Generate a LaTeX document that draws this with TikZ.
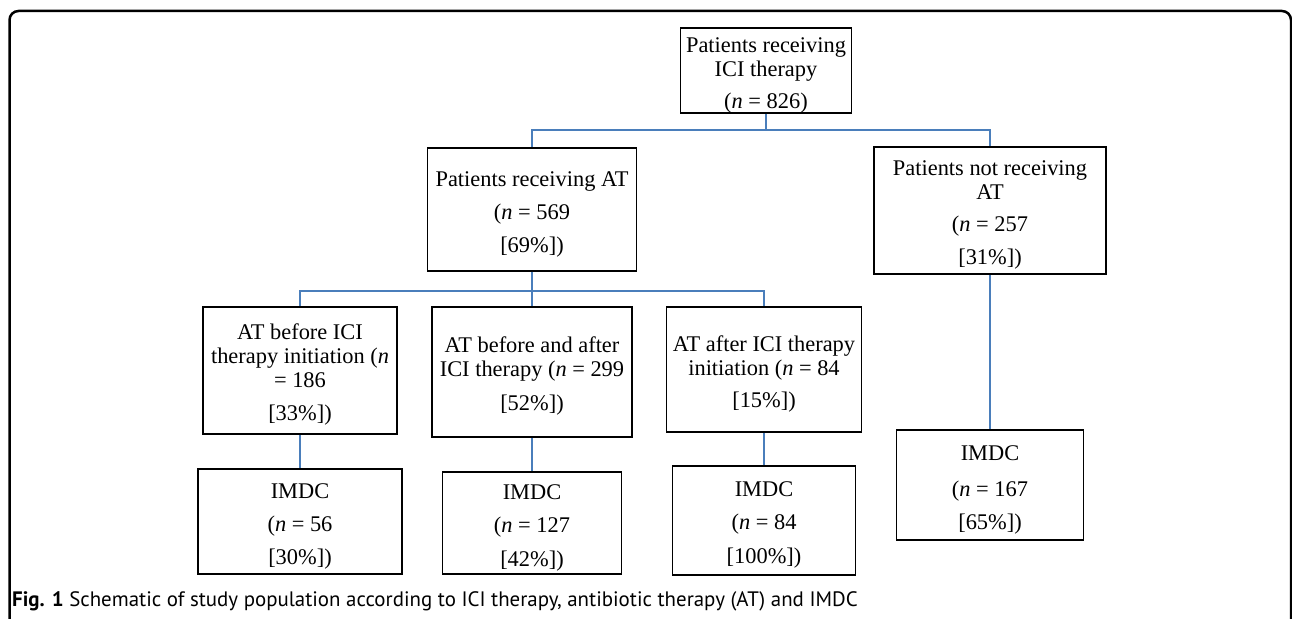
\documentclass[tikz,border=0pt]{standalone}
\usepackage{fontspec}
\setmainfont{Liberation Serif}
\newfontfamily\capfont{PT Sans}
\definecolor{connblue}{RGB}{74,126,187}
\newcommand{\upstrut}{\rule{0pt}{24pt}}
\begin{document}
\begin{tikzpicture}[x=1pt,y=-1pt,
  box/.style={draw, line width=1.6pt, align=center, inner sep=0pt,
    font=\fontsize{22.4}{24}\selectfont},
  conn/.style={draw=connblue, line width=1.8pt}]
\useasboundingbox (0,0) rectangle (1292,618);
\begin{scope}
\clip (0,0) rectangle (1292,618);
\draw[line width=2.5pt, rounded corners=9pt] (9.5,11) rectangle (1291,660);
\end{scope}
\node[box, minimum width=171pt, minimum height=85pt] (top) at (766,70.5)
  {\upstrut Patients receiving\\ICI therapy\\[8pt](\textit{n} = 826)};
\node[box, minimum width=209pt, minimum height=123pt] (at) at (532,209.5)
  {\upstrut Patients receiving AT\\[9pt](\textit{n} = 569\\[9pt][69\%])};
\node[box, minimum width=232pt, minimum height=127pt] (nat) at (990,210.5)
  {\upstrut Patients not receiving\\AT\\[8pt](\textit{n} = 257\\[9pt][31\%])};
\node[box, minimum width=194pt, minimum height=127pt] (b1) at (300,370.5)
  {\upstrut AT before ICI\\therapy initiation (\textit{n}\\= 186\\[9pt][33\%])};
\node[box, minimum width=200pt, minimum height=130pt] (b2) at (532,372)
  {\upstrut AT before and after\\ICI therapy (\textit{n} = 299\\[10pt][52\%])};
\node[box, minimum width=195pt, minimum height=125pt] (b3) at (764,369.5)
  {\upstrut AT after ICI therapy\\initiation (\textit{n} = 84\\[8pt][15\%])};
\node[box, minimum width=204pt, minimum height=105pt] (i1) at (300,521.5)
  {\upstrut IMDC\\[9pt](\textit{n} = 56\\[9pt][30\%])};
\node[box, minimum width=179pt, minimum height=102pt] (i2) at (532,523)
  {\upstrut IMDC\\[9pt](\textit{n} = 127\\[10pt][42\%])};
\node[box, minimum width=183pt, minimum height=109pt] (i3) at (764,520.5)
  {\upstrut IMDC\\[9pt](\textit{n} = 84\\[10pt][100\%])};
\node[box, minimum width=187pt, minimum height=110pt] (i4) at (990,485)
  {\upstrut IMDC\\[12pt](\textit{n} = 167\\[9pt][65\%])};
\draw[conn] (top.south) -- ++(0,16) -| (at.north);
\draw[conn] (top.south) -- ++(0,16) -| (nat.north);
\draw[conn] (at.south) -- ++(0,19) -| (b1.north);
\draw[conn] (at.south) -- ++(0,19) -| (b3.north);
\draw[conn] (at.south) -- (b2.north);
\draw[conn] (b1.south) -- (i1.north);
\draw[conn] (b2.south) -- (i2.north);
\draw[conn] (b3.south) -- (i3.north);
\draw[conn] (nat.south) -- (i4.north);
\node[anchor=base west, inner sep=0pt, font=\capfont\fontsize{20.9}{22}\selectfont] (cap) at (12,606)
  {\textbf{Fig. 1} Schematic of study population according to ICI therapy, antibiotic therapy (AT) and IMDC};
\end{tikzpicture}
\end{document}
